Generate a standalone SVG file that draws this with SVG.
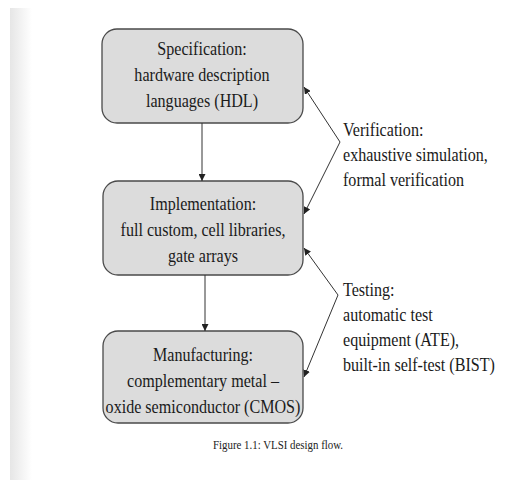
<svg xmlns="http://www.w3.org/2000/svg" width="518" height="480" viewBox="0 0 518 480">
<defs>
<linearGradient id="strip" x1="0" y1="0" x2="1" y2="0">
<stop offset="0" stop-color="#e6e6e6"/>
<stop offset="1" stop-color="#ffffff"/>
</linearGradient>
<marker id="ah" viewBox="0 0 10 10" refX="10" refY="5" markerWidth="7" markerHeight="7" orient="auto" markerUnits="userSpaceOnUse">
<path d="M0,0 L10,5 L0,10 z" fill="#222"/>
</marker>
<style>
.box{fill:#dcdcdc;stroke:#4a4a4a;stroke-width:1.3}
.t{font-family:"Liberation Serif","Times New Roman",serif;font-size:18.5px;fill:#1a1a1a}
.c{text-anchor:middle}
.cap{font-family:"Liberation Serif","Times New Roman",serif;font-size:12.5px;fill:#222}
.ln{stroke:#333;stroke-width:1;fill:none;marker-end:url(#ah)}
</style>
</defs>
<rect width="518" height="480" fill="#ffffff"/>
<rect x="10" y="8" width="22" height="472" fill="url(#strip)"/>

<g id="spec">
<rect class="box" x="102" y="29" width="201" height="94" rx="15"/>
<g transform="translate(202,0) scale(0.87,1)">
<text class="t c" x="0" y="55">Specification:</text>
<text class="t c" x="0" y="81">hardware description</text>
<text class="t c" x="0" y="107">languages (HDL)</text>
</g>
</g>

<g id="impl">
<rect class="box" x="103" y="181" width="200" height="94" rx="15"/>
<g transform="translate(203,0) scale(0.87,1)">
<text class="t c" x="0" y="210">Implementation:</text>
<text class="t c" x="0" y="236">full custom, cell libraries,</text>
<text class="t c" x="0" y="262">gate arrays</text>
</g>
</g>

<g id="manu">
<rect class="box" x="103" y="331" width="200" height="92" rx="15"/>
<g transform="translate(203,0) scale(0.87,1)">
<text class="t c" x="0" y="361">Manufacturing:</text>
<text class="t c" x="0" y="387">complementary metal –</text>
<text class="t c" x="0" y="413">oxide semiconductor (CMOS)</text>
</g>
</g>

<g id="verif">
<g transform="translate(343,0) scale(0.87,1)">
<text class="t" x="0" y="136">Verification:</text>
<text class="t" x="0" y="161">exhaustive simulation,</text>
<text class="t" x="0" y="186">formal verification</text>
</g>
</g>

<g id="test">
<g transform="translate(343,0) scale(0.87,1)">
<text class="t" x="0" y="296">Testing:</text>
<text class="t" x="0" y="321">automatic test</text>
<text class="t" x="0" y="346">equipment (ATE),</text>
<text class="t" x="0" y="371">built-in self-test (BIST)</text>
</g>
</g>

<g id="connectors">
<line class="ln" x1="202" y1="123" x2="202" y2="181"/>
<line class="ln" x1="205" y1="275" x2="205" y2="331"/>
<line class="ln" x1="340" y1="142" x2="304" y2="87"/>
<line class="ln" x1="340" y1="142" x2="304" y2="214"/>
<line class="ln" x1="338" y1="295" x2="304" y2="248"/>
<line class="ln" x1="338" y1="295" x2="304" y2="377"/>
</g>

<g transform="translate(213,0) scale(0.87,1)">
<text class="cap" x="0" y="449">Figure 1.1: VLSI design flow.</text>
</g>
</svg>
